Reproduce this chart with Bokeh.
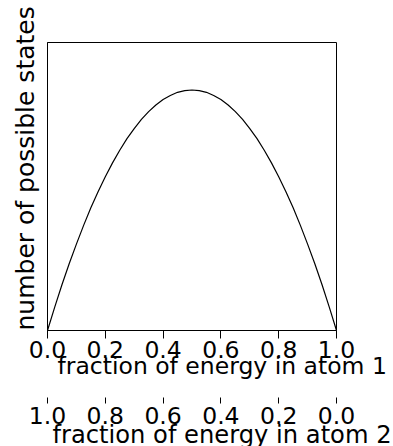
from bokeh.plotting import figure
from bokeh.models import (Range1d, LinearAxis, FixedTicker, PrintfTickFormatter, Title)
from bokeh.embed import file_html
from bokeh.resources import INLINE

# fraction of energy in atom 1
frac_atom1 = [0.0, 0.025, 0.05, 0.075, 0.1, 0.125, 0.15, 0.175, 0.2, 0.225, 0.25,
              0.275, 0.3, 0.325, 0.35, 0.375, 0.4, 0.425, 0.45, 0.475, 0.5,
              0.525, 0.55, 0.575, 0.6, 0.625, 0.65, 0.675, 0.7, 0.725, 0.75,
              0.775, 0.8, 0.825, 0.85, 0.875, 0.9, 0.925, 0.95, 0.975, 1.0]
# number of possible states (relative)
states = [0.0, 0.081, 0.159, 0.232, 0.300, 0.365, 0.426, 0.482, 0.534, 0.582, 0.626,
          0.666, 0.701, 0.733, 0.760, 0.783, 0.802, 0.816, 0.827, 0.833, 0.835,
          0.833, 0.827, 0.816, 0.802, 0.783, 0.760, 0.733, 0.701, 0.666, 0.626,
          0.582, 0.534, 0.482, 0.426, 0.365, 0.300, 0.232, 0.159, 0.081, 0.0]
tick_values = [0.0, 0.2, 0.4, 0.6, 0.8, 1.0]

xlabel1 = "fraction of energy in atom 1"
xlabel2 = "fraction of energy in atom 2"
ylabel = "number of possible states"

FONT = "DejaVu Sans"
FS = "23.5px"

p = figure(frame_width=289, frame_height=288,
           x_range=Range1d(0, 1), y_range=Range1d(0, 1),
           x_axis_type=None, y_axis_type=None,
           output_backend="svg", toolbar_location=None,
           min_border_left=46, min_border_right=58, min_border_top=42, min_border_bottom=116)
p.background_fill_color = "white"
p.border_fill_color = "white"
p.outline_line_color = "black"
p.outline_line_width = 1
p.xgrid.visible = False
p.ygrid.visible = False

p.line(frac_atom1, states, line_color="black", line_width=1.2)


def style_axis(ax, tick_in, tick_out, line_color, standoff):
    ax.axis_line_color = line_color
    ax.major_tick_out = tick_out
    ax.major_tick_in = tick_in
    ax.minor_tick_out = 0
    ax.minor_tick_in = 0
    ax.major_tick_line_color = "black"
    ax.major_label_standoff = standoff
    ax.major_label_text_font = FONT
    ax.major_label_text_font_size = FS
    ax.major_label_text_color = "black"


def make_title(text, offset, standoff, size):
    return Title(text=text, align="left", offset=offset, standoff=standoff,
                 text_font=FONT, text_font_size=size, text_font_style="normal",
                 text_color="black")


# first bottom axis (atom 1)
ax1 = LinearAxis(ticker=FixedTicker(ticks=tick_values),
                 formatter=PrintfTickFormatter(format="%.1f"))
style_axis(ax1, 0, 8, "black", 2)
p.add_layout(ax1, "below")
p.add_layout(make_title(xlabel1, 10, -21, FS), "below")

# invisible spacer between the two axes (one hidden tick, empty label)
spacer = LinearAxis(ticker=FixedTicker(ticks=[0.5]), major_label_overrides={0.5: ""})
style_axis(spacer, 0, 28, None, 0)
spacer.major_tick_line_color = None
spacer.major_label_text_font_size = "0px"
p.add_layout(spacer, "below")

# second bottom axis (atom 2), reversed
p.extra_x_ranges = {"atom2": Range1d(1, 0)}
ax2 = LinearAxis(x_range_name="atom2", ticker=FixedTicker(ticks=tick_values),
                 formatter=PrintfTickFormatter(format="%.1f"))
style_axis(ax2, 0, 6, None, 3)
p.add_layout(ax2, "below")
p.add_layout(make_title(xlabel2, 5, -16, "24.2px"), "below")

# left axis (no ticks)
ay = LinearAxis(ticker=FixedTicker(ticks=[]))
style_axis(ay, 0, 0, "black", 0)
p.add_layout(ay, "left")
yt = Title(text=ylabel, align="left", offset=0, standoff=16,
           text_font=FONT, text_font_size="25px", text_font_style="normal",
           text_color="black")
p.add_layout(yt, "left")

open("out.html", "w").write(file_html(p, INLINE))
